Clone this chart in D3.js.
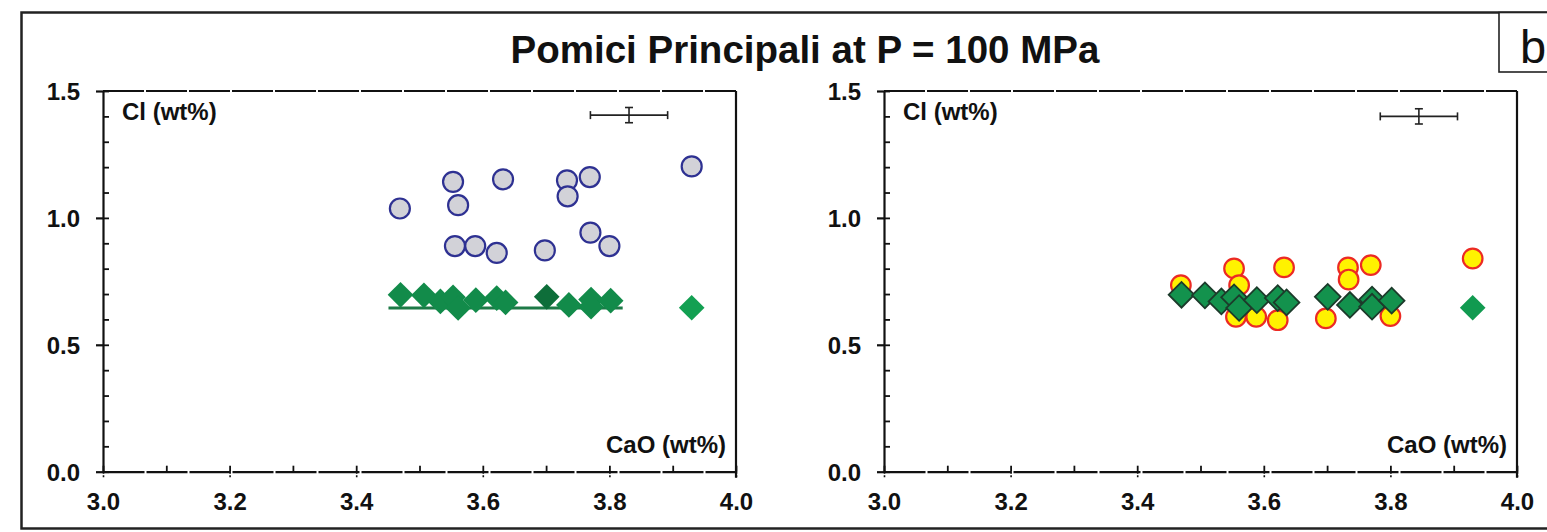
<!DOCTYPE html>
<html>
<head>
<meta charset="utf-8">
<script src="https://cdn.jsdelivr.net/npm/d3@7"></script>
<style>
  html, body { margin: 0; padding: 0; background: #fff; }
  svg { display: block; font-family: "Liberation Sans", Arial, sans-serif; }
  .tick text { font-weight: bold; font-size: 24px; fill: #111; }
</style>
</head>
<body>
<svg id="chart" width="1547" height="532"></svg>
<script>
// Glass analyses (CaO vs Cl, wt%)
const glassCaO = [3.469, 3.553, 3.561, 3.632, 3.733, 3.734, 3.769, 3.930, 3.556, 3.588, 3.622, 3.698, 3.770, 3.800];
const glassCl  = [1.037, 1.142, 1.050, 1.152, 1.148, 1.085, 1.161, 1.203, 0.889, 0.889, 0.862, 0.872, 0.942, 0.889];
// Same glasses, Cl recalculated (right panel)
const recalcCl = [0.735, 0.801, 0.735, 0.805, 0.805, 0.757, 0.814, 0.840, 0.610, 0.610, 0.597, 0.604, 0.660, 0.613];
// Model compositions at 100 MPa
const modelCaO = [3.470, 3.507, 3.533, 3.553, 3.561, 3.589, 3.622, 3.636, 3.701, 3.736, 3.771, 3.771, 3.802, 3.930];
const modelCl  = [0.697, 0.695, 0.671, 0.687, 0.645, 0.676, 0.684, 0.667, 0.689, 0.657, 0.678, 0.650, 0.674, 0.646];
// Saturation line (left panel)
const satCaO = [3.451, 3.821];
const satCl  = [0.645, 0.645];
// Analytical uncertainty bars: [CaO, Cl, ±CaO, ±Cl]
const errLeft  = [3.831, 1.405, 0.061, 0.030];
const errRight = [3.845, 1.400, 0.061, 0.030];
// Axis ticks
const xTicks = [3.0, 3.2, 3.4, 3.6, 3.8, 4.0];
const xMinor = [3.0, 3.1, 3.2, 3.3, 3.4, 3.5, 3.6, 3.7, 3.8, 3.9, 4.0];
const yTicks = [0.0, 0.5, 1.0, 1.5];
const yMinor = [0.0, 0.1, 0.2, 0.3, 0.4, 0.5, 0.6, 0.7, 0.8, 0.9, 1.0, 1.1, 1.2, 1.3, 1.4, 1.5];

const svg = d3.select("#chart");
const fmt = d3.format(".1f");

// outer frame
svg.append("rect").attr("x", 21.5).attr("y", 12.5).attr("width", 1560).attr("height", 516)
  .attr("fill", "none").attr("stroke", "#222").attr("stroke-width", 2.5);
// panel letter box
svg.append("rect").attr("x", 1499).attr("y", 12.5).attr("width", 80).attr("height", 59.5)
  .attr("fill", "#fff").attr("stroke", "#222").attr("stroke-width", 1.6);
svg.append("text").attr("x", 1520).attr("y", 63).attr("font-size", 47).attr("fill", "#111").text("b");

// title
svg.append("text").attr("x", 805).attr("y", 63).attr("text-anchor", "middle")
  .attr("font-size", 38.5).attr("font-weight", "bold").attr("fill", "#111")
  .text("Pomici Principali at P = 100 MPa");

function panel(x0, x1, drawMarks, err) {
  const x = d3.scaleLinear().domain([3, 4]).range([x0, x1]);
  const y = d3.scaleLinear().domain([0, 1.5]).range([471.7, 91]);
  const g = svg.append("g");

  // top and right frame lines
  g.append("line").attr("x1", x(3)).attr("x2", x(4)).attr("y1", y(1.5)).attr("y2", y(1.5))
    .attr("stroke", "#111").attr("stroke-width", 2.2).attr("stroke-dasharray", "41 2");
  g.append("line").attr("x1", x(4)).attr("x2", x(4)).attr("y1", y(1.5)).attr("y2", y(0) + 6)
    .attr("stroke", "#111").attr("stroke-width", 2.2);

  // x axis: minor ticks point up, majors cross the line
  const xm = g.append("g").attr("transform", `translate(0,${y(0)})`)
    .call(d3.axisBottom(x).tickValues(xMinor).tickSize(-6).tickSizeOuter(0).tickFormat(""));
  xm.select(".domain").attr("stroke", "#111").attr("stroke-width", 2.2).attr("stroke-dasharray", "41 2");
  xm.selectAll(".tick line").attr("stroke", "#111").attr("stroke-width", 1.8);
  const xa = g.append("g").attr("transform", `translate(0,${y(0)})`)
    .call(d3.axisBottom(x).tickValues(xTicks).tickSize(6).tickPadding(15).tickSizeOuter(0).tickFormat(fmt));
  xa.select(".domain").remove();
  xa.selectAll(".tick line").attr("stroke", "#111").attr("stroke-width", 1.6).attr("stroke-dasharray", "2 1.5");

  // y axis: minor ticks point inward, majors cross
  const ym = g.append("g").attr("transform", `translate(${x(3)},0)`)
    .call(d3.axisLeft(y).tickValues(yMinor).tickSize(-6).tickSizeOuter(0).tickFormat(""));
  ym.select(".domain").attr("stroke", "#111").attr("stroke-width", 2.2);
  ym.selectAll(".tick line").attr("stroke", "#111").attr("stroke-width", 1.8);
  const ya = g.append("g").attr("transform", `translate(${x(3)},0)`)
    .call(d3.axisLeft(y).tickValues(yTicks).tickSize(7).tickPadding(16).tickSizeOuter(0).tickFormat(fmt));
  ya.select(".domain").remove();
  ya.selectAll(".tick line").attr("stroke", "#111").attr("stroke-width", 2.2);
  ya.selectAll(".tick text").attr("dy", "0.36em");

  // axis titles
  g.append("text").attr("x", x(3) + 19).attr("y", 120).attr("font-size", 24)
    .attr("font-weight", "bold").attr("fill", "#111").text("Cl (wt%)");
  g.append("text").attr("x", x(4) - 10).attr("y", 453).attr("text-anchor", "end").attr("font-size", 24)
    .attr("font-weight", "bold").attr("fill", "#111").text("CaO (wt%)");

  // uncertainty bars
  const [ec, el, dc, dl] = err;
  const eb = g.append("g").attr("stroke", "#222").attr("stroke-width", 1.6).attr("fill", "none");
  eb.append("line").attr("x1", x(ec - dc)).attr("x2", x(ec + dc)).attr("y1", y(el)).attr("y2", y(el));
  eb.append("line").attr("x1", x(ec - dc)).attr("x2", x(ec - dc)).attr("y1", y(el) - 4).attr("y2", y(el) + 4);
  eb.append("line").attr("x1", x(ec + dc)).attr("x2", x(ec + dc)).attr("y1", y(el) - 4).attr("y2", y(el) + 4);
  eb.append("line").attr("x1", x(ec)).attr("x2", x(ec)).attr("y1", y(el + dl)).attr("y2", y(el - dl));
  eb.append("line").attr("x1", x(ec) - 4).attr("x2", x(ec) + 4).attr("y1", y(el + dl)).attr("y2", y(el + dl));
  eb.append("line").attr("x1", x(ec) - 4).attr("x2", x(ec) + 4).attr("y1", y(el - dl)).attr("y2", y(el - dl));

  drawMarks(g, x, y);
}

const diamond = d3.symbol().type(d3.symbolSquare).size(330);

// left panel: measured glasses and model
panel(103, 736, (g, x, y) => {
  g.selectAll("circle.glass").data(glassCaO).join("circle").attr("class", "glass")
    .attr("cx", d => x(d)).attr("cy", (d, i) => y(glassCl[i])).attr("r", 10)
    .attr("fill", "#d2d2d8").attr("stroke", "#2e3192").attr("stroke-width", 2.2);
  g.append("path").datum(satCaO.map((c, i) => [c, satCl[i]]))
    .attr("d", d3.line().x(d => x(d[0])).y(d => y(d[1])))
    .attr("stroke", "#1d7a47").attr("stroke-width", 3).attr("fill", "none");
  g.selectAll("path.model").data(modelCaO).join("path").attr("class", "model")
    .attr("d", diamond)
    .attr("transform", (d, i) => `translate(${x(d)},${y(modelCl[i])}) rotate(45)`)
    .attr("fill", (d, i) => d > 3.9 ? "#13a052" : (i === 8 ? "#0e6e3a" : "#128b4a"));
}, errLeft);

// right panel: recalculated glasses and model
panel(884, 1517, (g, x, y) => {
  g.selectAll("circle.recalc").data(glassCaO).join("circle").attr("class", "recalc")
    .attr("cx", d => x(d)).attr("cy", (d, i) => y(recalcCl[i])).attr("r", 9.8)
    .attr("fill", "#fff200").attr("stroke", "#ec2a24").attr("stroke-width", 2.2);
  g.selectAll("path.model").data(modelCaO).join("path").attr("class", "model")
    .attr("d", diamond)
    .attr("transform", (d, i) => `translate(${x(d)},${y(modelCl[i])}) rotate(45)`)
    .attr("fill", d => d > 3.9 ? "#119a50" : "#13924d")
    .attr("stroke", d => d > 3.9 ? "none" : "#1c3b2b").attr("stroke-width", 1.8);
}, errRight);
</script>
</body>
</html>
